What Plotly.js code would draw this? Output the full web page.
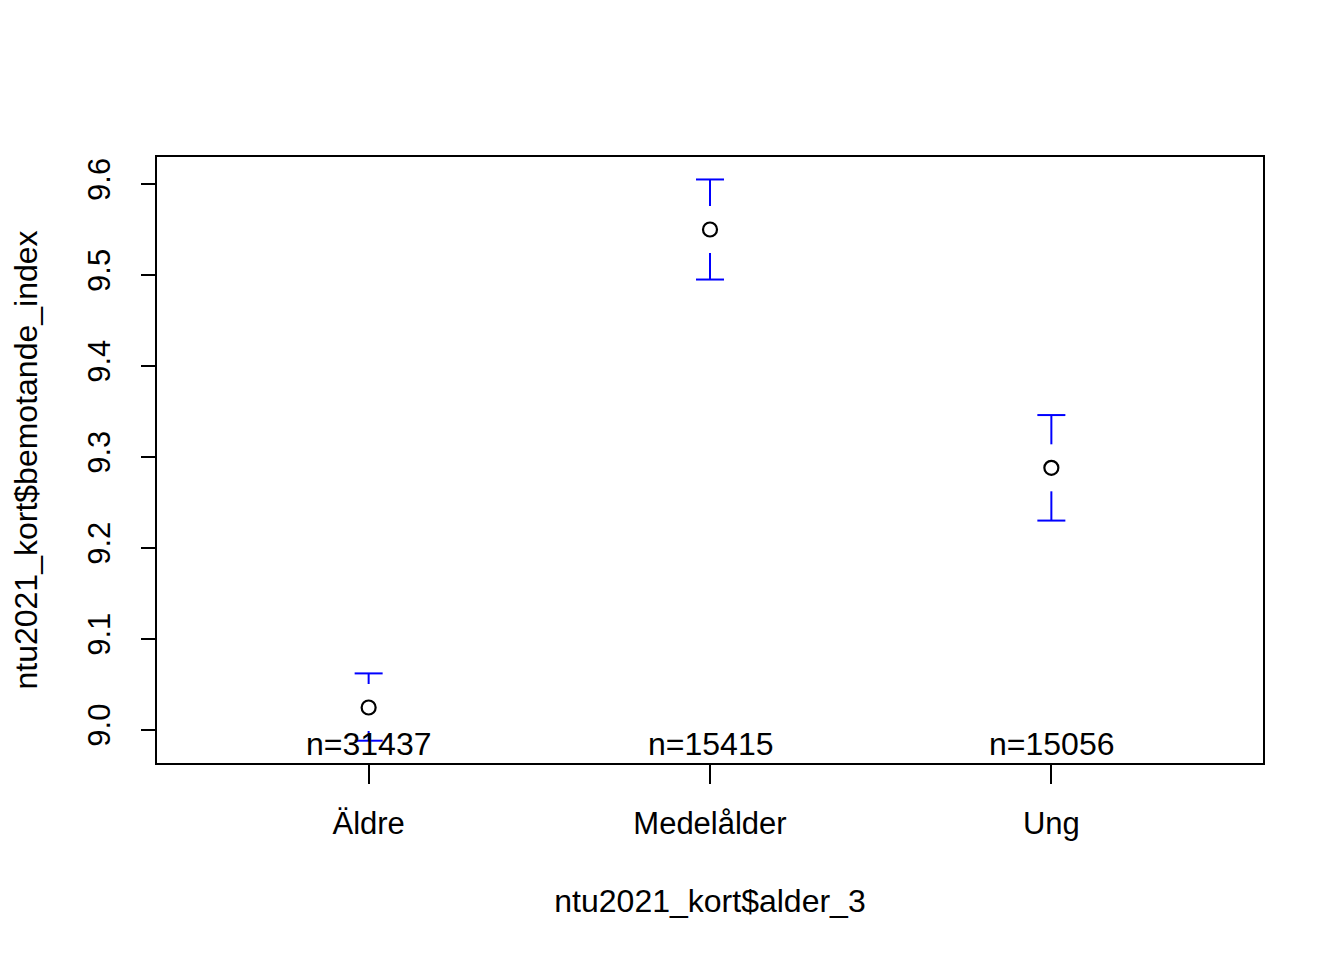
<!DOCTYPE html>
<html>
<head>
<meta charset="utf-8">
<script src="https://cdn.plot.ly/plotly-3.0.1.min.js"></script>
<style>html,body{margin:0;padding:0;background:#fff;}#chart{width:1344px;height:960px;}</style>
</head>
<body>
<div id="chart"></div>
<script>
// Data (plotmeans output)
const categories = ["Äldre", "Medelålder", "Ung"];
const means = [9.0245, 9.550, 9.288];
const ciLower = [8.988, 9.495, 9.230];
const ciUpper = [9.062, 9.605, 9.346];
const nCounts = [31437, 15415, 15056];
const yTickVals = [9.0, 9.1, 9.2, 9.3, 9.4, 9.5, 9.6];
const yTickText = ["9.0", "9.1", "9.2", "9.3", "9.4", "9.5", "9.6"];

const FONT = "Liberation Sans, Arial, sans-serif";
const FS = 31;
const FT = 32;
const margin = {l: 157, r: 81, t: 157, b: 197};
const W = 1344, H = 960;
const plotW = W - margin.l - margin.r;
const plotH = H - margin.t - margin.b;

const xPos = categories.map((c, i) => i + 1);
const xRange = [0.38, 3.62];
const yRange = [8.9635, 9.6297];

// gap around the mean symbol and cap half-width, in pixels -> data units
const gapY = 23.5 * (yRange[1] - yRange[0]) / plotH;
const capX = 14 * (xRange[1] - xRange[0]) / plotW;

const ex = [], ey = [];
for (let i = 0; i < xPos.length; i++) {
  const x = xPos[i];
  if (ciUpper[i] > means[i] + gapY) { ex.push(x, x, null); ey.push(means[i] + gapY, ciUpper[i], null); }
  ex.push(x - capX, x + capX, null); ey.push(ciUpper[i], ciUpper[i], null);
  if (ciLower[i] < means[i] - gapY) { ex.push(x, x, null); ey.push(means[i] - gapY, ciLower[i], null); }
  ex.push(x - capX, x + capX, null); ey.push(ciLower[i], ciLower[i], null);
}

const traces = [
  {type: "scatter", mode: "lines", x: ex, y: ey, line: {color: "#0000FF", width: 2}, hoverinfo: "skip", showlegend: false},
  {type: "scatter", mode: "markers", x: xPos, y: means,
   marker: {symbol: "circle-open", size: 14, color: "#000000", line: {width: 2.2, color: "#000000"}}, showlegend: false}
];

const annotations = xPos.map((x, i) => ({
  x: x, y: yRange[0], xref: "x", yref: "y", yanchor: "bottom", xanchor: "center",
  text: "n=" + nCounts[i], showarrow: false, font: {family: FONT, size: FT, color: "#000"}, borderpad: 0
}));

const layout = {
  width: W, height: H, margin: margin,
  paper_bgcolor: "#fff", plot_bgcolor: "#fff",
  font: {family: FONT, size: FS, color: "#000"},
  showlegend: false,
  xaxis: {
    range: xRange, tickvals: xPos, ticktext: categories,
    showgrid: false, zeroline: false, showline: true, mirror: true, linecolor: "#000", linewidth: 2,
    ticks: "outside", ticklen: 19, tickwidth: 2, tickcolor: "#000", ticklabelstandoff: 13,
    tickfont: {family: FONT, size: FS, color: "#000"},
    title: {text: "ntu2021_kort$alder_3", font: {family: FONT, size: FT, color: "#000"}, standoff: 49}
  },
  yaxis: {
    range: yRange, tickvals: yTickVals, ticktext: yTickText, tickangle: -90,
    showgrid: false, zeroline: false, showline: true, mirror: true, linecolor: "#000", linewidth: 2,
    ticks: "outside", ticklen: 14, tickwidth: 2, tickcolor: "#000", ticklabelstandoff: 19,
    tickfont: {family: FONT, size: FS, color: "#000"},
    title: {text: "ntu2021_kort$bemotande_index", font: {family: FONT, size: FT, color: "#000"}, standoff: 34}
  },
  annotations: annotations
};

Plotly.newPlot("chart", traces, layout, {displayModeBar: false, staticPlot: true});
</script>
</body>
</html>
